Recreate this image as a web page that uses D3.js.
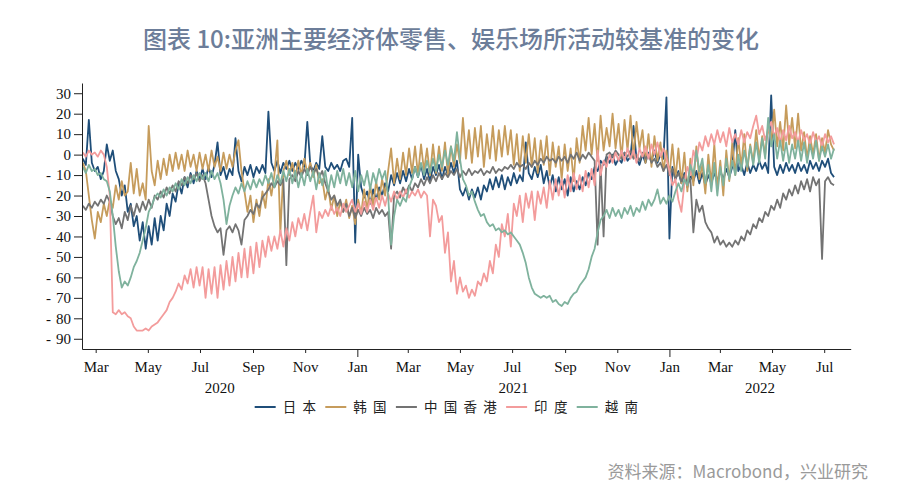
<!DOCTYPE html>
<html><head><meta charset="utf-8">
<script src="https://cdn.jsdelivr.net/npm/d3@7"></script>
<style>body{margin:0;background:#fff}svg{display:block}</style>
</head><body>
<svg id="c" width="902" height="497"></svg>
<script>
// ---- data ----
const startDate = "2020-02-15";   // first observation
const stepHours = 84;              // 3.5-day sampling
const seriesNames = ["日本", "韩国", "中国香港", "印度", "越南"];
const seriesColors = ["#1f4e79", "#c69c5c", "#737373", "#f39c9c", "#7fb29d"];

const japan = [
 -2,-5,17,-4,-8,-6,-12,-8,5,-3,
 2,-8,-12,-20,-15,-28,-24,-35,-30,-42,
 -33,-46,-35,-44,-31,-42,-30,-37,-24,-30,
 -19,-23,-14,-19,-11,-16,-9,-14,-8,-12,
 -7,-12,-6,-11,-5,6,-10,-6,-12,-7,
 -10,8,-8,-13,-6,-10,-5,-11,-6,-9,
 -5,-9,21,-4,-8,-3,-9,-4,-7,-3,
 -8,-4,-7,-3,-6,16,-5,-8,-4,-7,
 9,-6,-8,-4,-7,-5,-8,-3,-2,-6,
 18,-43,0,-16,-21,-18,-24,-17,-22,-16,
 -20,-14,-18,-10,-15,-9,-14,-8,-13,-7,
 -12,-6,-11,-5,-12,-7,-13,-6,-10,-5,
 -12,-6,-10,-4,-9,-3,-17,-20,-16,-22,
 -17,-21,-16,-22,-15,-18,-12,-17,-11,-16,
 -10,-17,-11,-15,-9,-14,-10,-13,6,-9,
 -12,-6,-11,-5,-14,-8,-16,-10,-18,-11,
 -17,-12,-20,-11,-18,-13,-17,-11,-15,-9,
 -12,-6,-8,-3,-5,-1,-4,0,-5,-2,
 -4,1,-3,-1,14,-2,-5,0,-4,1,
 -3,2,-4,0,-2,28,-41,-6,-12,-8,
 -14,-9,-16,-10,-13,-8,-14,-9,-15,-10,
 -14,-9,-13,-8,-12,-7,-11,-6,12,-8,
 -5,-10,-4,-9,-5,-8,-3,-7,-4,-9,
 29,-6,-10,-5,-9,-4,-8,-5,-9,-4,
 -8,-5,-9,-3,-7,-4,-8,-3,-6,-2,
 -9,-11];

const korea = [
 -4,-8,-20,-32,-41,-28,-33,-24,-30,-22,
 -26,-15,-22,-13,-20,-18,-4,-19,-7,-20,
 -14,-22,14,-8,-15,-3,-12,-2,-10,0,
 -8,1,-7,0,-8,2,-6,0,-8,1,
 -7,0,-8,2,-6,-1,-8,1,-7,0,
 -6,2,7,-8,-18,-28,-20,-33,-22,-30,
 -18,-26,-12,-20,-10,7,-38,-8,-3,-10,
 -4,-11,-3,-10,-2,-9,-4,-11,-5,-14,
 -12,-22,-16,-27,-20,-30,-23,-28,-22,-31,
 -25,-34,-22,-29,-17,-27,-15,-25,-13,-22,
 -12,-20,-8,3,-14,-2,-12,1,-10,3,
 -9,4,-10,5,-8,3,-10,5,-9,4,
 -8,6,-10,4,-6,5,-4,18,-2,12,
 -4,13,-1,14,-6,10,-2,14,-3,12,
 -1,14,0,12,-5,10,-8,9,-4,10,
 -6,8,-9,7,-5,9,-10,6,-6,4,
 -12,5,-8,3,-13,8,-4,14,2,18,
 0,15,-3,19,2,13,4,20,3,15,
 -2,17,2,19,-1,16,3,12,-4,10,
 -6,9,-3,6,-8,2,-10,5,-12,3,
 -14,1,-18,-2,-15,4,-12,-5,-19,0,
 -14,5,-17,-3,-20,2,-13,6,-10,8,
 -6,10,-8,5,-4,12,-2,9,0,14,
 6,22,4,16,2,24,5,18,3,20,
 2,11,-2,9,0,10,-3,8,1,12,
 5,2];

const hongkong = [
 -25,-27,-24,-26,-23,-25,-22,-24,-20,-23,
 -30,-34,-31,-36,-28,-32,-25,-30,-24,-28,
 -23,-27,-22,-26,-20,-22,-18,-21,-16,-19,
 -15,-18,-13,-15,-11,-14,-10,-12,-9,-13,
 -10,-14,-22,-30,-35,-38,-36,-49,-37,-35,
 -38,-34,-37,-44,-32,-30,-27,-29,-24,-26,
 -21,-19,-17,-14,-16,-13,-15,-12,-54,-12,
 -10,-13,-8,-11,-7,-10,-6,-9,-7,-11,
 -8,-14,-18,-22,-20,-25,-22,-28,-24,-30,
 -26,-31,-27,-30,-26,-29,-27,-31,-26,-29,
 -27,-30,-28,-46,-20,-18,-21,-16,-19,-15,
 -18,-14,-16,-12,-15,-11,-14,-10,-13,-9,
 -12,-9,-11,-8,-10,-7,-11,-8,-10,-7,
 -10,-8,-9,-7,-10,-8,-9,-6,-9,-7,
 -8,-6,-7,-5,-7,-4,-6,-5,-7,-4,
 -6,-3,-5,-2,-4,-1,-3,-2,-4,-1,
 -3,-1,-4,0,-2,1,-3,0,-2,1,
 -1,-3,-44,-5,-40,0,1,-1,2,0,
 -2,1,-1,2,-2,0,-3,1,-2,0,
 -4,-2,-6,-4,-8,-5,-10,-7,-12,-9,
 -13,-10,-14,-12,-38,-22,-28,-25,-33,-36,
 -38,-43,-40,-44,-42,-45,-43,-45,-42,-44,
 -40,-42,-37,-39,-34,-36,-31,-33,-28,-30,
 -25,-27,-22,-26,-19,-22,-17,-20,-15,-19,
 -13,-17,-12,-18,-11,-15,-12,-51,-13,-11,
 -14,-15];

const india = [
 1,-1,2,0,1,-1,2,0,-6,-20,
 -77,-78,-76,-78,-77,-79,-80,-84,-86,-86,
 -86,-85,-86,-84,-83,-82,-80,-78,-76,-72,
 -70,-67,-63,-66,-59,-63,-56,-65,-55,-64,
 -55,-70,-56,-68,-55,-70,-54,-66,-52,-64,
 -50,-62,-48,-60,-46,-60,-45,-58,-43,-55,
 -42,-50,-40,-47,-40,-46,-37,-45,-36,-42,
 -33,-40,-31,-36,-29,-37,-28,-20,-38,-28,
 -31,-27,-30,-25,-29,-26,-30,-24,-28,-25,
 -22,-28,-24,-29,-23,-28,-22,-27,-21,-26,
 -20,-25,-19,-23,-18,-22,-18,-21,-17,-21,
 -18,-20,-17,-21,-18,-20,-40,-22,-25,-33,
 -30,-48,-38,-62,-52,-68,-60,-67,-64,-70,
 -66,-69,-62,-64,-58,-62,-52,-58,-44,-50,
 -34,-40,-29,-45,-24,-30,-20,-33,-19,-26,
 -18,-32,-18,-24,-16,-26,-13,-22,-12,-20,
 -12,-21,-10,-18,-9,-17,-10,-18,-8,-16,
 -7,-15,2,-10,-3,-6,0,-4,1,-3,
 2,-3,3,-2,2,-4,3,-1,4,-2,
 5,0,6,-1,3,-2,-8,-15,-12,-22,
 -28,-14,-6,-10,2,-3,6,2,9,4,
 10,5,12,6,11,4,13,6,10,5,
 12,6,11,8,14,19,10,14,7,12,
 16,9,13,6,12,7,14,8,11,6,
 12,7,10,5,11,6,9,4,10,6,
 9,5];

const vietnam = [
 -6,-9,-5,-8,-7,-10,-9,-12,-13,-18,
 -30,-45,-57,-65,-62,-64,-60,-55,-52,-48,
 -42,-36,-28,-25,-21,-19,-21,-17,-20,-16,
 -18,-14,-17,-12,-15,-11,-14,-10,-13,-9,
 -12,-9,-13,-8,-12,-9,-14,-22,-34,-25,
 -20,-16,-19,-14,-18,-13,-17,-12,-16,-12,
 -15,-10,-14,-9,-16,-10,-14,-8,-13,-7,
 -14,-8,-16,-9,-15,-7,-13,-8,-17,-9,
 -15,-8,-18,-10,-16,-8,-14,-7,-15,-9,
 -16,-8,-18,-10,-15,-8,-17,-9,-14,-7,
 -12,-8,-20,-44,-30,-22,-25,-21,-23,-16,
 -12,-6,-11,-4,-10,-3,-9,-2,-8,0,
 -6,2,-5,4,-3,11,-2,-12,-15,-20,
 -18,-23,-27,-30,-29,-33,-35,-34,-37,-36,
 -38,-37,-39,-38,-40,-42,-44,-48,-53,-60,
 -65,-68,-69,-70,-69,-70,-69,-72,-71,-73,
 -74,-72,-73,-70,-68,-67,-64,-62,-60,-56,
 -50,-46,-38,-32,-30,-27,-31,-26,-30,-27,
 -31,-26,-29,-25,-30,-26,-28,-23,-27,-22,
 -25,-22,-17,-24,-21,-24,-20,-23,-18,-14,
 -18,-12,-15,-5,-10,2,-8,-2,-14,-5,
 -18,-4,-20,-6,-15,-2,-12,-3,-10,0,
 -8,2,-6,4,-5,6,-4,8,-2,18,
 4,10,-2,7,-3,6,-4,5,-2,7,
 -3,6,-4,5,-2,7,-3,4,-1,5,
 -2,3];

const yTicks = [30, 20, 10, 0, -10, -20, -30, -40, -50, -60, -70, -80, -90];
const monthTicks = ["2020-03-01","2020-05-01","2020-07-01","2020-09-01","2020-11-01",
  "2021-01-01","2021-03-01","2021-05-01","2021-07-01","2021-09-01","2021-11-01",
  "2022-01-01","2022-03-01","2022-05-01","2022-07-01"];
const yearLabels = ["2020", "2021", "2022"];
const titleText = "图表 10:亚洲主要经济体零售、娱乐场所活动较基准的变化";
const sourceText = "资料来源：Macrobond，兴业研究";

// ---- chart ----
const parse = d3.timeParse("%Y-%m-%d");
const svg = d3.select("#c");
const serif = "'Liberation Serif','Times New Roman',serif";
const cjk = "'Noto Sans CJK SC','Noto Sans',sans-serif";

const x = d3.scaleTime().domain([parse("2020-02-14"), parse("2022-08-01")]).range([82, 850.7]);
const y = d3.scaleLinear().domain([-95, 35]).range([349, 83]);

const t0 = parse(startDate);
const allSeries = [japan, korea, hongkong, india, vietnam];
const dates = japan.map((_, i) => d3.timeHour.offset(t0, i * stepHours));

// title
svg.append("text").attr("x", 451).attr("y", 48).attr("text-anchor", "middle")
  .attr("font-family", cjk).attr("font-size", 24).attr("font-weight", 500)
  .attr("fill", "#6c7d99").text(titleText);

// lines
const line = d3.line().x((d, i) => x(dates[i])).y(d => y(d));
svg.append("g").selectAll("path").data(allSeries).join("path")
  .attr("d", d => line(d)).attr("fill", "none")
  .attr("stroke", (d, i) => seriesColors[i]).attr("stroke-width", 1.8)
  .attr("stroke-linejoin", "round");

// y axis
const gy = svg.append("g").attr("transform", "translate(82,0)")
  .call(d3.axisLeft(y).tickValues(yTicks).tickSize(8).tickSizeOuter(0).tickPadding(3)
    .tickFormat(d3.format("d")));
gy.selectAll("text").attr("font-family", serif).attr("font-size", 15).attr("fill", "#111")
  .each(function(d) {
    if (d < 0) {
      const t = d3.select(this); t.text(null);
      t.append("tspan").text("-");
      t.append("tspan").attr("dx", 5).text(String(-d));
    }
  });
gy.selectAll("path,line").attr("stroke", "#222");

// x axis
const mt = monthTicks.map(parse);
const gx = svg.append("g").attr("transform", "translate(0,349)")
  .call(d3.axisBottom(x).tickValues(mt).tickSize(4).tickSizeOuter(0).tickPadding(8)
    .tickFormat(d3.timeFormat("%b")));
gx.selectAll(".tick line").attr("y2", d => d.getMonth() === 0 ? 8 : 4);
gx.selectAll("text").attr("font-family", serif).attr("font-size", 15).attr("fill", "#111");
gx.selectAll("path,line").attr("stroke", "#222");

// year labels
yearLabels.forEach(yr => {
  const a = Math.max(x.range()[0], x(parse(yr + "-01-01")));
  const b = Math.min(x.range()[1], x(parse((+yr + 1) + "-01-01")));
  svg.append("text").attr("x", (a + b) / 2).attr("y", 393).attr("text-anchor", "middle")
    .attr("font-family", serif).attr("font-size", 15).attr("fill", "#111").text(yr);
});

// legend
const lg = svg.append("g");
let cx = 0;
seriesNames.forEach((n, i) => {
  const g = lg.append("g");
  g.append("line").attr("x1", 0).attr("x2", 21).attr("y1", 0).attr("y2", 0)
    .attr("stroke", seriesColors[i]).attr("stroke-width", 2);
  const t = g.append("text").attr("x", 28).attr("y", 5).attr("font-family", cjk)
    .attr("font-size", 13.5).attr("letter-spacing", 6.3).attr("fill", "#222").text(n);
  const w = 28 + t.node().getComputedTextLength() + 3;
  g.attr("transform", `translate(${cx},0)`);
  cx += w;
});
lg.attr("transform", `translate(${451 - cx / 2},407)`);

// source
svg.append("text").attr("x", 868).attr("y", 478).attr("text-anchor", "end")
  .attr("font-family", cjk).attr("font-size", 17).attr("fill", "#9a9a9a").text(sourceText);
</script>
</body></html>
